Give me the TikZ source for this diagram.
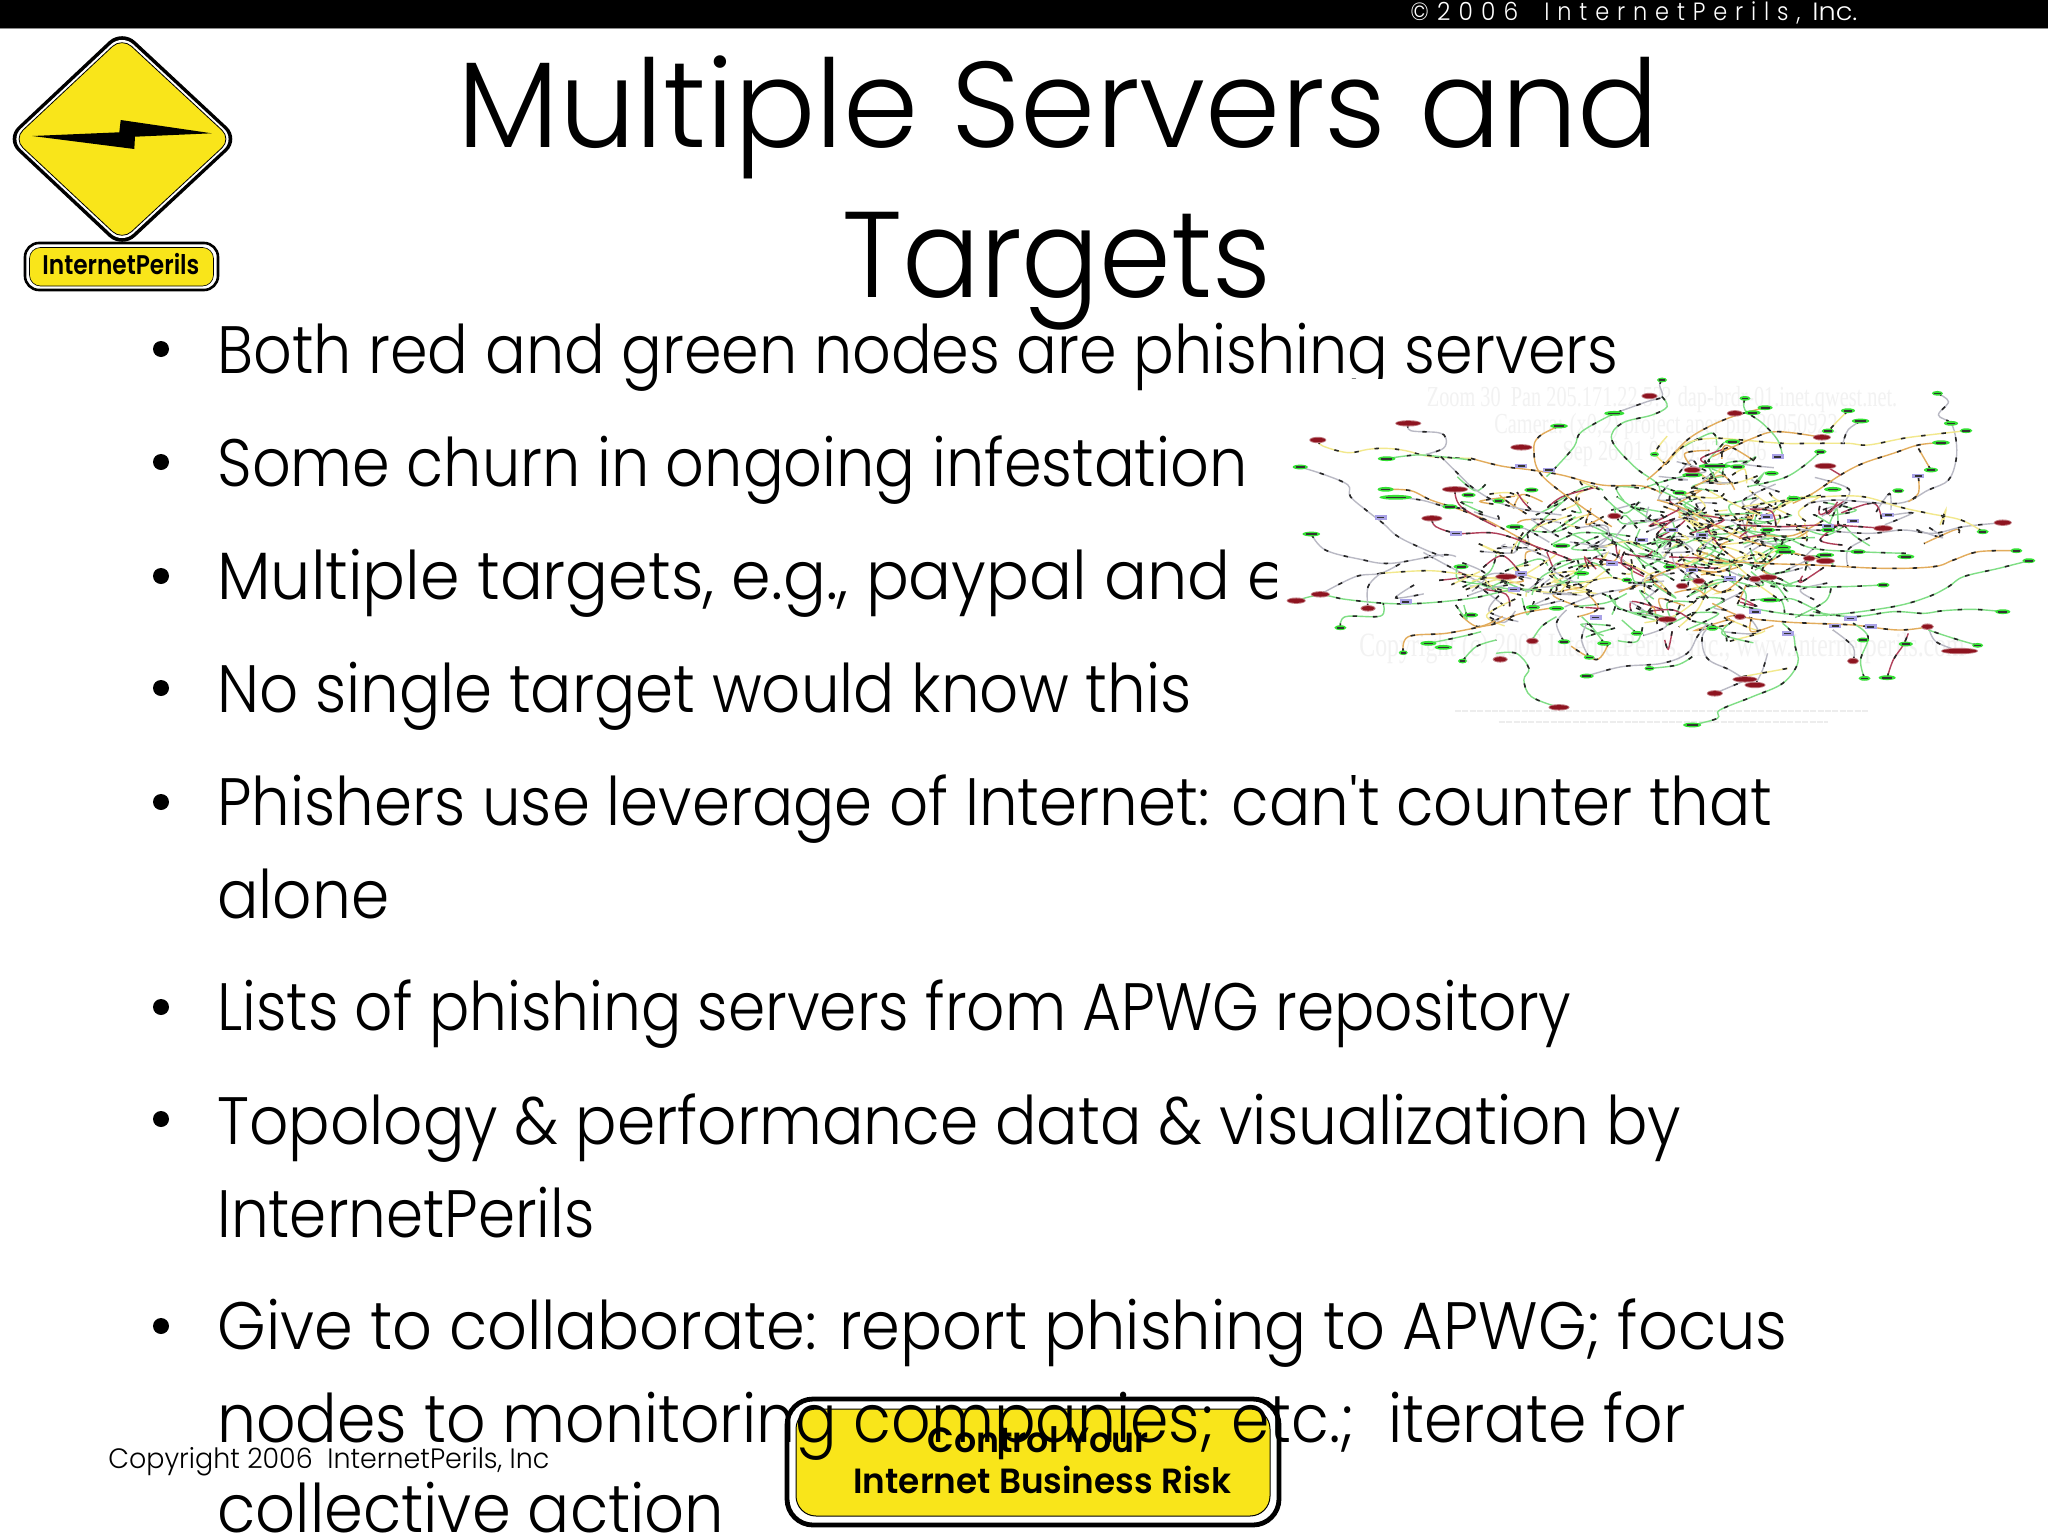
\documentclass[tikz,border=0pt]{standalone}
\usepackage{graphicx}
\usepackage{fontspec}
\newfontfamily\lightf[UprightFont=* Light]{Poppins}
\newfontfamily\spacedf[UprightFont=* Light,LetterSpace=35]{Poppins}
\newfontfamily\heavyf[UprightFont=* SemiBold]{Poppins}
\newfontfamily\markf{Liberation Serif}
\definecolor{signyellow}{HTML}{F9E51A}
\definecolor{gE}{HTML}{7FDE85}
\definecolor{yE}{HTML}{F2E88C}
\definecolor{oE}{HTML}{E2AC5C}
\definecolor{sE}{HTML}{B9B9C4}
\definecolor{rE}{HTML}{B0405A}
\definecolor{gN}{HTML}{35E035}
\definecolor{rN}{HTML}{8E1420}
\definecolor{lN}{HTML}{A9A2E6}
\definecolor{cA}{HTML}{7FDE85}
\definecolor{cB}{HTML}{E2AC5C}
\definecolor{cC}{HTML}{B9B9C4}
\definecolor{cD}{HTML}{F2E88C}
\definecolor{cE}{HTML}{7FDE85}
\definecolor{cF}{HTML}{B0405A}
\newsavebox\tlbox
\newlength\tllen
% name, text colour, font, x, baseline y, width in px, text
\newcommand\colline[7]{%
  \node[anchor=base west,inner sep=0pt,text=#2] (#1) at (#4,#5) {%
    \sbox\tlbox{#3#7}\setlength\tllen{\wd\tlbox}%
    \pgfmathsetmacro\tlratio{#6*0.5/\tllen}%
    \scalebox{\tlratio}[1]{\usebox\tlbox}};}
\newcommand\tline[6]{\colline{#1}{black}{#2}{#3}{#4}{#5}{#6}}
\newcommand\netedge[2]{%
  \draw[netline,#1] plot[smooth,tension=0.6] coordinates {#2};
  \draw[netlabel] plot[smooth,tension=0.6] coordinates {#2};}
\tikzset{
  netline/.style={line width=0.7pt},
  netlabel/.style={line width=0.8pt,black!85,dash pattern=on 2.2pt off 8pt},
  bulletdot/.style={fill=black},
  ghost/.style={text=black!5,inner sep=0pt},
}
\begin{document}
\begin{tikzpicture}[x=0.5pt,y=-0.5pt]
\useasboundingbox (0,0) rectangle (2048,1536);
\fill[white] (0,0) rectangle (2048,1536);
% top bar
\fill[black] (0,0) rectangle (2048,28);
\draw[black!45,line width=0.5pt] (0,28.5) -- (2048,28.5);
\def\barsize{\fontsize{12.5}{14}\selectfont}
\colline{barA}{white}{\spacedf\barsize}{1410}{21}{108}{\textcopyright 2006}
\colline{barB}{white}{\spacedf\barsize}{1544}{21}{256}{InternetPerils,}
\colline{barC}{white}{\lightf\barsize}{1812}{21}{45}{Inc.}
% logo
\fill[black,rounded corners=9pt] (5,139) -- (122,29) -- (240,139) -- (122,249) -- cycle;
\fill[white,rounded corners=7.5pt] (10,139) -- (122,34) -- (235,139) -- (122,244) -- cycle;
\draw[black,fill=signyellow,line width=0.4pt,rounded corners=6.5pt] (13.5,139) -- (122,37.5) -- (231.5,139) -- (122,240.5) -- cycle;
\fill[black] (32.3,136) -- (119.3,132.3) -- (120.7,120) -- (211.7,133.3) -- (135,136.7) -- (134.3,149) -- cycle;
\draw[black,fill=white,line width=1.3pt,rounded corners=7pt] (25,243) rectangle (218,290);
\draw[black,fill=signyellow,line width=0.3pt,rounded corners=5.5pt] (29.5,247.5) rectangle (213.5,286);
\tline{logotext}{\heavyf\fontsize{13.5}{15}\selectfont}{42}{274}{157}{InternetPerils}
% bottom button
\draw[black,fill=white,line width=2.4pt,rounded corners=13pt] (787,1399) rectangle (1279,1525);
\draw[black,fill=signyellow,line width=0.5pt,rounded corners=10pt] (796,1409) rectangle (1270,1516);
\tline{btnA}{\heavyf\fontsize{17.5}{20}\selectfont}{927}{1452}{221}{Control Your}
\tline{btnB}{\heavyf\fontsize{17.5}{20}\selectfont}{853}{1493}{378}{Internet Business Risk}
% footer
\tline{foot}{\lightf\fontsize{14}{16}\selectfont}{108}{1468}{441}{Copyright 2006~~InternetPerils, Inc}
% title
\def\titlesize{\fontsize{61}{70}\selectfont}
\tline{titleA}{\lightf\titlesize}{457}{148}{1202}{Multiple Servers and}
\tline{titleB}{\lightf\titlesize}{842}{297}{429}{Targets}
% bullets
\def\bodysize{\fontsize{33.5}{38}\selectfont}
\foreach \yy in {349,462,576,688,802,1007,1119,1326}{\fill[bulletdot] (161,\yy) circle (8);}
\tline{lineA}{\lightf\bodysize}{217}{373}{1401}{Both red and green nodes are phishing servers}
\tline{lineB}{\lightf\bodysize}{217}{486}{1030}{Some churn in ongoing infestation}
\tline{lineC}{\lightf\bodysize}{217}{599}{1070}{Multiple targets, e.g., paypal and e}
\tline{lineD}{\lightf\bodysize}{217}{712}{974}{No single target would know this}
\tline{lineE}{\lightf\bodysize}{217}{825}{1555}{Phishers use leverage of Internet: can't counter that}
\tline{lineF}{\lightf\bodysize}{217}{918}{172}{alone}
\tline{lineG}{\lightf\bodysize}{217}{1030}{1354}{Lists of phishing servers from APWG repository}
\tline{lineH}{\lightf\bodysize}{217}{1144}{1464}{Topology \& performance data \& visualization by}
\tline{lineI}{\lightf\bodysize}{217}{1237}{377}{InternetPerils}
\tline{lineJ}{\lightf\bodysize}{217}{1349}{1570}{Give to collaborate: report phishing to APWG; focus}
\tline{lineK}{\lightf\bodysize}{217}{1442}{1468}{nodes to monitoring companies; etc.;~~iterate for}
\tline{lineL}{\lightf\bodysize}{217}{1532}{507}{collective action}
% network picture, white panel over the text
\fill[white] (1277,379) rectangle (2048,775);
\begin{scope}[shift={(1260,360)},x=0.25126pt,y=-0.16667pt]
% ghost watermark
\node[ghost] (wmA) at (800,118) {\markf\fontsize{14.5}{16}\selectfont\scalebox{0.7}[1]{Zoom 30~~Pan 205.171.22.5?? dap-brdr-01.inet.qwest.net.}};
\node[ghost] (wmB) at (808,200) {\markf\fontsize{14.5}{16}\selectfont\scalebox{0.7}[1]{Camera: (x0,2) project aper pip 20050922}};
\node[ghost] (wmC) at (805,282) {\markf\fontsize{14.5}{16}\selectfont\scalebox{0.7}[1]{Sep 26 01 09:09:13 2006}};
\node[ghost] (wmD) at (800,865) {\markf\fontsize{17}{19}\selectfont\scalebox{0.7}[1]{Copyright (c) 2006 InternetPerils, Inc., www.internetperils.com}};
\draw[black!7,line width=1pt,dash pattern=on 3pt off 0.7pt] (388,1053) -- (1212,1053);
\draw[black!7,line width=1pt,dash pattern=on 3pt off 0.7pt] (475,1085) -- (1130,1085);
% random dense core
\pgfmathsetseed{4217}
\foreach \cx/\cy/\sx/\sy/\num in {770/590/190/120/125, 920/470/140/80/70, 920/730/130/70/45, 530/680/120/65/35, 1100/500/170/45/28, 880/340/70/40/20, 600/470/100/60/18}{
  \foreach \k in {1,...,\num}{
    \pgfmathsetmacro\xa{\cx+(rand+rand)*\sx}
    \pgfmathsetmacro\ya{\cy+(rand+rand)*\sy}
    \pgfmathsetmacro\xb{\xa+rand*70}
    \pgfmathsetmacro\yb{\ya+rand*55}
    \pgfmathsetmacro\xc{\xb+rand*70}
    \pgfmathsetmacro\yc{\yb+rand*55}
    \pgfmathtruncatemacro\pick{random(1,9)}
    \edef\pal{\ifcase\pick\or cA\or cB\or cC\or cD\or cE\or cA\or cD\or cC\or cF\fi}
    \netedge{\pal}{(\xa,\ya) (\xb,\yb) (\xc,\yc)}
  }
}
% main routes
\netedge{sE}{(295,190) (300,212) (355,218) (370,235) (365,265) (330,283)}
\netedge{yE}{(115,240) (125,258) (175,278) (215,268) (250,265) (290,272) (340,290) (420,295)}
\netedge{oE}{(420,295) (480,318) (540,330) (600,345) (680,375) (760,378) (800,400)}
\netedge{gE}{(252,296) (310,285) (360,290) (420,300)}
\netedge{sE}{(80,321) (130,345) (175,375) (180,410) (215,455) (245,490) (275,530) (330,570) (365,590)}
\netedge{oE}{(250,388) (300,392) (340,420) (400,450) (450,480) (500,520) (560,570)}
\netedge{sE}{(270,412) (320,420) (370,440) (410,445)}
\netedge{rE}{(388,388) (400,440) (470,500)}
\netedge{sE}{(360,290) (400,350) (425,385) (470,425) (530,450) (600,465)}
\netedge{rE}{(342,475) (350,500) (395,520) (470,520) (550,560) (620,600)}
\netedge{sE}{(102,522) (130,570) (200,598) (260,610) (360,585) (390,590)}
\netedge{gE}{(72,722) (120,705) (170,718) (250,730) (320,730) (420,715) (500,690) (560,690)}
\netedge{sE}{(120,703) (190,650) (240,640) (280,610)}
\netedge{sE}{(215,745) (215,680) (240,640)}
\netedge{gE}{(160,803) (170,770) (240,768) (245,730)}
\netedge{yE}{(240,640) (330,632) (390,640) (480,660)}
\netedge{oE}{(595,198) (555,230) (545,270) (560,345) (640,440) (700,500)}
\netedge{gE}{(705,160) (640,215) (625,260) (590,320) (570,350)}
\netedge{sE}{(800,60) (795,75) (800,110) (770,125) (705,160)}
\netedge{gE}{(800,110) (810,140) (780,165) (720,190) (700,240) (745,320) (790,370) (795,400)}
\netedge{sE}{(1348,100) (1370,125) (1350,165) (1375,190) (1385,240) (1385,300) (1370,360) (1330,390) (1270,430) (1150,420) (1090,430)}
\netedge{yE}{(1405,212) (1330,225) (1280,235) (1210,255) (1170,250) (1100,250) (1040,250) (960,240) (900,235) (850,250) (810,310)}
\netedge{oE}{(1355,248) (1310,255) (1260,280) (1200,310) (1155,345) (1100,400) (1060,430)}
\netedge{oE}{(1335,330) (1310,265)}
\netedge{oE}{(1310,350) (1310,400) (1290,425)}
\netedge{rE}{(1125,318) (1155,345)}
\netedge{gE}{(1115,275) (1080,320) (1040,355) (970,380)}
\netedge{sE}{(1195,183) (1170,210) (1160,250)}
\netedge{yE}{(1170,152) (1145,190) (1130,215)}
\netedge{oE}{(1118,232) (1030,215) (980,235) (900,290)}
\netedge{gE}{(965,115) (965,150) (1000,190) (1030,240) (1040,290)}
\netedge{oE}{(1005,143) (950,165) (900,195) (850,240) (800,320) (770,360)}
\netedge{sE}{(1478,488) (1400,500) (1340,520) (1280,510) (1210,520) (1100,510) (1000,510)}
\netedge{yE}{(1438,515) (1395,480) (1330,460) (1270,440) (1200,410) (1120,410) (1050,420) (960,440)}
\netedge{rE}{(1240,505) (1130,495) (1040,500) (950,495)}
\netedge{oE}{(1505,572) (1430,575) (1380,600) (1340,620) (1240,625) (1100,615) (1000,610) (900,600) (860,580)}
\netedge{gE}{(1530,602) (1470,625) (1400,650) (1370,680) (1330,710) (1260,740) (1130,765) (1040,760) (950,735)}
\netedge{gE}{(1285,580) (1190,575) (1100,565) (1040,530) (960,510)}
\netedge{gE}{(1238,675) (1160,680) (1080,680) (1010,665) (985,655)}
\netedge{gE}{(1478,755) (1420,748) (1360,752) (1320,760) (1260,755) (1180,770) (1100,755)}
\netedge{oE}{(1330,800) (1270,810) (1180,795) (1100,790) (1040,785) (960,770) (900,730)}
\netedge{sE}{(1392,873) (1345,845) (1330,800)}
\netedge{gE}{(1428,856) (1380,835) (1330,810)}
\netedge{rE}{(1248,953) (1260,900) (1280,855) (1290,820)}
\netedge{gE}{(1203,955) (1195,900) (1210,830) (1180,790)}
\netedge{sE}{(1180,903) (1180,860) (1140,810)}
\netedge{gE}{(860,1095) (910,1075) (915,1050) (980,1010) (1040,970) (1070,910) (1065,860) (1060,820) (1040,790)}
\netedge{sE}{(905,1000) (960,965)}
\netedge{sE}{(965,958) (935,930) (890,895) (880,830) (900,790)}
\netedge{sE}{(985,975) (1000,930) (1010,880)}
\netedge{yE}{(960,950) (1050,925)}
\netedge{sE}{(650,948) (720,920) (800,910) (850,880) (870,830) (890,790)}
\netedge{gE}{(775,925) (830,915) (860,890)}
\netedge{gE}{(595,1042) (540,1010) (525,960) (535,925) (510,880) (470,880)}
\netedge{oE}{(285,878) (295,830) (370,820) (440,800) (470,790) (520,760) (600,740)}
\netedge{gE}{(403,903) (430,860) (470,840)}
\netedge{gE}{(335,850) (400,830) (440,815)}
\netedge{sE}{(655,892) (640,840) (650,790)}
\netedge{sE}{(605,845) (590,790) (610,750)}
\netedge{gE}{(540,845) (560,800) (590,770)}
\netedge{gE}{(685,850) (660,800) (640,770)}
\netedge{gE}{(750,820) (720,780)}
\netedge{oE}{(1125,602) (1040,570) (950,530) (850,450) (790,420)}
% routers (green, red, lavender)
\foreach \x/\y in {1008/470,820/510,880/525,760/540,700/610,860/630,935/655,505/688,668/772,985/755,1050/820,1145/798,1215/800,1310/348,1250/465,1180/483,1130/498,575/330,520/318,240/472,390/520,290/725,520/640,1030/290,1175/775}{
  \fill[lN] (\x-12,\y-7) rectangle (\x+12,\y+7);
  \fill[black!80] (\x-7,\y-2.5) rectangle (\x+7,\y+2.5);
}
\foreach \x/\y/\w in {800/60/20,705/160/40,595/198/35,965/115/22,1005/143/30,980/158/32,1195/183/35,1170/152/28,1130/213/25,1348/100/22,1375/190/28,1405/212/25,1355/248/35,1115/275/25,940/245/30,785/283/18,1018/340/28,905/318/65,950/320/30,860/345/40,1335/330/28,252/296/35,80/321/30,250/388/32,270/412/65,415/405/28,378/440/30,475/423/25,540/390/28,1270/392/24,1140/388/35,1062/415/28,835/398/28,1438/515/24,1285/590/34,1505/572/24,1530/602/26,1190/575/30,1125/585/35,1045/575/40,1040/562/34,1240/675/26,1015/720/40,900/805/24,1478/755/30,1285/852/28,1428/856/22,1200/840/25,1203/955/24,1248/953/34,860/1095/36,650/948/28,775/925/20,655/892/22,685/850/28,750/820/25,605/845/25,403/903/18,335/850/32,365/862/35,285/878/18,160/803/24,102/522/35,543/742/28,590/745/30,420/765/28,400/620/30,600/557/35,507/500/35,730/660/22,1010/510/30,1130/510/28,815/620/26,640/640/30}{
  \fill[gN] (\x,\y) ellipse [x radius={\w*0.1257pt},y radius=1.2pt];
  \fill[black!80] (\x-\w*0.3,\y-2.5) rectangle (\x+\w*0.3,\y+2.5);
}
\foreach \x/\y/\w in {295/190/48,115/240/30,520/262/40,388/388/48,342/475/38,775/108/28,945/160/28,1118/232/32,1125/318/40,860/330/30,1240/505/35,1478/488/32,1125/603/34,1093/595/22,1010/652/36,985/657/22,873/663/22,840/678/22,810/778/35,120/703/34,72/722/34,215/745/26,478/898/26,542/843/22,595/1042/38,905/1000/28,965/958/46,985/975/38,1180/903/20,1328/800/22,1392/873/70,955/770/20,490/650/40,705/468/24}{
  \fill[rN!55] (\x,\y) ellipse [x radius={\w*0.1257pt+0.5pt},y radius=1.6pt];
  \fill[rN] (\x,\y) ellipse [x radius={\w*0.1257pt},y radius=1.1pt];
}
\end{scope}
\end{tikzpicture}
\end{document}
